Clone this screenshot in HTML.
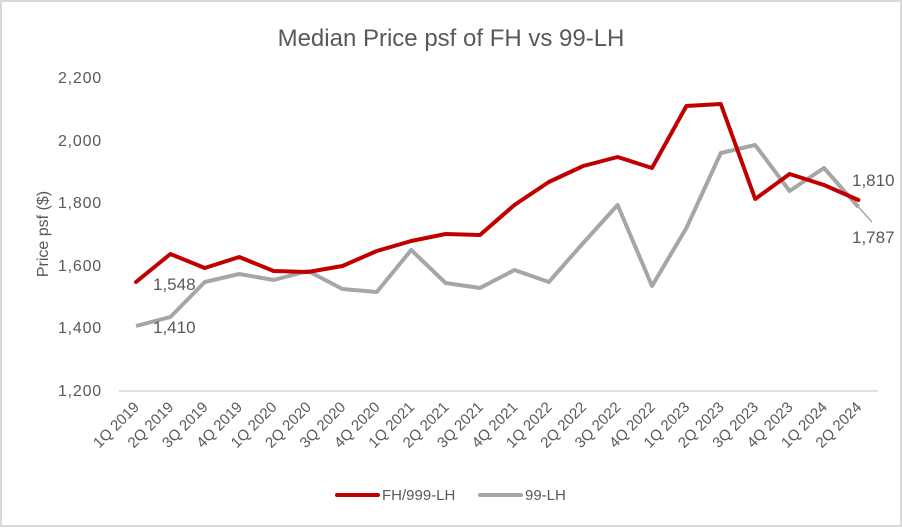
<!DOCTYPE html>
<html><head><meta charset="utf-8"><style>
html,body{margin:0;padding:0;background:#fff}
svg text{font-family:"Liberation Sans",sans-serif;fill:#595959}
</style></head><body>
<svg width="902" height="527" viewBox="0 0 902 527" xmlns="http://www.w3.org/2000/svg">
<rect x="1" y="1" width="900" height="525" fill="#fff" stroke="#d9d9d9" stroke-width="2"/>
<text x="451" y="46" text-anchor="middle" font-size="24">Median Price psf of FH vs 99-LH</text>
<g font-size="16" text-anchor="end" letter-spacing="0.8">
<text x="102" y="83">2,200</text>
<text x="102" y="146">2,000</text>
<text x="102" y="208">1,800</text>
<text x="102" y="271">1,600</text>
<text x="102" y="333">1,400</text>
<text x="102" y="396">1,200</text>
</g>
<text transform="translate(48,234) rotate(-90)" font-size="16" text-anchor="middle">Price psf ($)</text>
<line x1="119" y1="391" x2="878" y2="391" stroke="#d9d9d9" stroke-width="1.5"/>
<polyline fill="none" stroke="#a6a6a6" stroke-width="4" stroke-linejoin="round" points="136,326 170.4,317 204.8,282 239.2,274 273.6,280 308,271 342.4,289 376.8,292 411.2,250 445.6,283 480,288 514.4,270 548.8,282 583.2,243 617.6,205 652,286 686.4,228 720.8,153 755.2,145 789.6,191 824,168 858.4,207"/>
<line x1="858.4" y1="207" x2="872" y2="222" stroke="#a6a6a6" stroke-width="1.5"/>
<polyline fill="none" stroke="#c00000" stroke-width="4" stroke-linejoin="round" stroke-linecap="round" points="136,282 170.4,254 204.8,268 239.2,257 273.6,271 308,272 342.4,266 376.8,251 411.2,241 445.6,234 480,235 514.4,205 548.8,182 583.2,166 617.6,157 652,168 686.4,106 720.8,104 755.2,199 789.6,174 824,185 858.4,200"/>
<g font-size="17">
<text x="153" y="290">1,548</text>
<text x="153" y="333">1,410</text>
<text x="852" y="186">1,810</text>
<text x="852" y="243">1,787</text>
</g>
<g font-size="15" text-anchor="end">
<text transform="translate(140,408) rotate(-45)">1Q 2019</text>
<text transform="translate(174.4,408) rotate(-45)">2Q 2019</text>
<text transform="translate(208.8,408) rotate(-45)">3Q 2019</text>
<text transform="translate(243.2,408) rotate(-45)">4Q 2019</text>
<text transform="translate(277.6,408) rotate(-45)">1Q 2020</text>
<text transform="translate(312,408) rotate(-45)">2Q 2020</text>
<text transform="translate(346.4,408) rotate(-45)">3Q 2020</text>
<text transform="translate(380.8,408) rotate(-45)">4Q 2020</text>
<text transform="translate(415.2,408) rotate(-45)">1Q 2021</text>
<text transform="translate(449.6,408) rotate(-45)">2Q 2021</text>
<text transform="translate(484,408) rotate(-45)">3Q 2021</text>
<text transform="translate(518.4,408) rotate(-45)">4Q 2021</text>
<text transform="translate(552.8,408) rotate(-45)">1Q 2022</text>
<text transform="translate(587.2,408) rotate(-45)">2Q 2022</text>
<text transform="translate(621.6,408) rotate(-45)">3Q 2022</text>
<text transform="translate(656,408) rotate(-45)">4Q 2022</text>
<text transform="translate(690.4,408) rotate(-45)">1Q 2023</text>
<text transform="translate(724.8,408) rotate(-45)">2Q 2023</text>
<text transform="translate(759.2,408) rotate(-45)">3Q 2023</text>
<text transform="translate(793.6,408) rotate(-45)">4Q 2023</text>
<text transform="translate(828,408) rotate(-45)">1Q 2024</text>
<text transform="translate(862.4,408) rotate(-45)">2Q 2024</text>
</g>
<line x1="337" y1="495" x2="378" y2="495" stroke="#c00000" stroke-width="4" stroke-linecap="round"/>
<text x="382" y="500" font-size="15">FH/999-LH</text>
<line x1="480" y1="495" x2="521" y2="495" stroke="#a6a6a6" stroke-width="4" stroke-linecap="round"/>
<text x="525" y="500" font-size="15">99-LH</text>
</svg>
</body></html>
